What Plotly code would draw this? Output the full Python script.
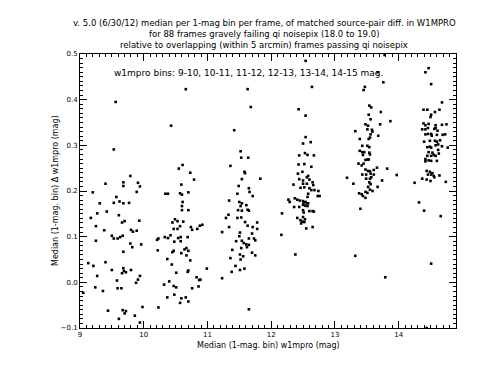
import plotly.graph_objects as go

# ---- data ----
bin1_x = [9.56, 9.53, 9.20, 9.40, 9.68, 9.68, 9.79, 9.91, 9.94, 9.89, 9.57, 9.31, 9.53, 9.62, 9.68, 9.77,
          9.27, 9.42, 9.61, 9.17, 9.25, 9.66, 9.70, 9.93, 9.38, 9.80, 9.83, 9.89, 9.50, 9.53, 9.59, 9.63,
          9.67, 9.25, 9.79, 9.82, 9.96, 9.68, 9.13, 9.21, 9.40, 9.27, 9.50, 9.68, 9.69, 9.72, 9.66, 9.80,
          9.94, 9.91, 9.58, 9.88, 9.05, 9.24, 9.36, 9.59, 9.65, 9.44, 9.67, 9.70, 9.72, 9.61, 9.86, 9.94, 9.98]
bin1_y = [0.395, 0.291, 0.197, 0.216, 0.219, 0.211, 0.233, 0.218, 0.210, 0.198, 0.187, 0.173, 0.174, 0.177, 0.173, 0.174,
          0.151, 0.155, 0.147, 0.141, 0.123, 0.131, 0.134, 0.135, 0.114, 0.115, 0.111, 0.113, 0.102, 0.096, 0.096, 0.099,
          0.102, 0.091, 0.085, 0.077, 0.083, 0.067, 0.042, 0.036, 0.044, 0.014, 0.027, 0.031, 0.025, 0.022, 0.020, 0.027,
          0.014, 0.006, 0.004, -0.001, -0.023, -0.011, -0.019, -0.013, -0.013, -0.062, -0.061, -0.068, -0.063, -0.080, -0.073, -0.088, -0.054]

bin2_x = [10.66, 10.43, 10.55, 10.61, 10.73, 10.79, 10.59, 10.34, 10.38, 10.57, 10.60, 10.70, 10.61, 10.60, 10.60, 10.70,
          10.49, 10.45, 10.53, 10.62, 10.57, 10.47, 10.53, 10.74, 10.76, 10.84, 10.88, 10.92, 10.33, 10.38, 10.42, 10.21,
          10.23, 10.54, 10.58, 10.69, 10.48, 10.58, 10.22, 10.37, 10.45, 10.47, 10.64, 10.67, 10.70, 10.59, 10.67, 10.44,
          10.73, 10.70, 10.69, 10.51, 10.83, 10.87, 10.89, 10.99, 10.32, 10.40, 10.47, 10.51, 10.37, 10.48, 10.59, 10.66,
          10.57, 10.76, 10.86, 10.70, 10.23]
bin2_y = [0.423, 0.343, 0.249, 0.257, 0.240, 0.225, 0.214, 0.194, 0.194, 0.195, 0.192, 0.197, 0.176, 0.167, 0.158, 0.158,
          0.138, 0.131, 0.134, 0.133, 0.123, 0.117, 0.117, 0.121, 0.115, 0.117, 0.124, 0.126, 0.099, 0.097, 0.103, 0.093,
          0.096, 0.097, 0.099, 0.099, 0.089, 0.090, 0.070, 0.051, 0.066, 0.069, 0.072, 0.075, 0.069, 0.064, 0.059, 0.039,
          0.048, 0.026, 0.023, 0.021, 0.011, 0.005, 0.006, 0.030, -0.005, 0.002, -0.008, -0.011, -0.033, -0.027, -0.035, -0.033,
          -0.045, -0.013, -0.009, -0.042, -0.055]

bin3_x = [11.63, 11.68, 11.42, 11.52, 11.53, 11.64, 11.36, 11.58, 11.59, 11.83, 11.54, 11.49, 11.65, 11.66, 11.71, 11.47,
          11.34, 11.50, 11.54, 11.52, 11.61, 11.48, 11.54, 11.63, 11.65, 11.33, 11.29, 11.47, 11.53, 11.59, 11.63, 11.71,
          11.78, 11.78, 11.34, 11.23, 11.51, 11.50, 11.70, 11.65, 11.73, 11.75, 11.45, 11.54, 11.57, 11.61, 11.65, 11.62,
          11.53, 11.39, 11.70, 11.75, 11.51, 11.56, 11.52, 11.36, 11.44, 11.58, 11.51, 11.38, 11.23, 11.65]
bin3_y = [0.423, 0.384, 0.333, 0.287, 0.273, 0.273, 0.255, 0.242, 0.239, 0.227, 0.226, 0.211, 0.206, 0.198, 0.189, 0.194,
          0.179, 0.176, 0.173, 0.167, 0.169, 0.158, 0.157, 0.159, 0.157, 0.148, 0.141, 0.141, 0.142, 0.132, 0.124, 0.121,
          0.131, 0.117, 0.121, 0.110, 0.109, 0.101, 0.107, 0.096, 0.096, 0.092, 0.090, 0.091, 0.086, 0.083, 0.082, 0.077,
          0.075, 0.071, 0.065, 0.059, 0.061, 0.057, 0.050, 0.053, 0.036, 0.030, 0.027, 0.023, 0.009, -0.059]

bin4_x = [12.54, 12.64, 12.43, 12.54, 12.54, 12.50, 12.62, 12.44, 12.53, 12.57, 12.67, 12.43, 12.52, 12.63, 12.42, 12.49,
          12.58, 12.56, 12.44, 12.50, 12.60, 12.35, 12.50, 12.56, 12.65, 12.66, 12.46, 12.52, 12.60, 12.63, 12.68, 12.74,
          12.58, 12.57, 12.73, 12.76, 12.37, 12.41, 12.27, 12.29, 12.45, 12.50, 12.51, 12.54, 12.56, 12.58, 12.50, 12.53,
          12.57, 12.36, 12.44, 12.50, 12.51, 12.60, 12.65, 12.67, 12.17, 12.41, 12.50, 12.53, 12.46, 12.49, 12.52, 12.47,
          12.65, 12.55, 12.16, 12.38]
bin4_y = [0.485, 0.428, 0.379, 0.365, 0.318, 0.304, 0.307, 0.278, 0.283, 0.279, 0.278, 0.258, 0.259, 0.253, 0.238, 0.242,
          0.233, 0.230, 0.226, 0.223, 0.225, 0.214, 0.216, 0.216, 0.219, 0.213, 0.207, 0.208, 0.206, 0.202, 0.202, 0.200,
          0.194, 0.187, 0.189, 0.189, 0.184, 0.181, 0.181, 0.176, 0.179, 0.178, 0.175, 0.176, 0.173, 0.173, 0.170, 0.168,
          0.167, 0.165, 0.165, 0.158, 0.153, 0.156, 0.156, 0.155, 0.151, 0.141, 0.143, 0.138, 0.136, 0.133, 0.132, 0.129,
          0.121, 0.118, 0.104, 0.061]

bin5_x = [13.78, 13.67, 13.76, 13.47, 13.45, 13.54, 13.57, 13.72, 13.53, 13.56, 13.87, 13.71, 13.48, 13.52, 13.51, 13.58,
          13.59, 13.32, 13.56, 13.55, 13.68, 13.39, 13.53, 13.43, 13.51, 13.54, 13.39, 13.43, 13.46, 13.44, 13.54, 13.55,
          13.48, 13.51, 13.53, 13.45, 13.37, 13.42, 13.66, 13.82, 13.48, 13.52, 13.55, 13.61, 13.43, 13.49, 13.56, 13.61,
          13.19, 13.97, 13.49, 13.55, 13.57, 13.74, 13.29, 13.54, 13.56, 13.67, 13.52, 13.55, 13.48, 13.51, 13.38, 13.44,
          13.48, 13.59, 13.42, 13.40, 13.32, 13.79]
bin5_y = [0.498, 0.460, 0.438, 0.428, 0.421, 0.387, 0.383, 0.373, 0.367, 0.357, 0.353, 0.346, 0.346, 0.343, 0.335, 0.334,
          0.330, 0.331, 0.324, 0.317, 0.321, 0.314, 0.314, 0.299, 0.299, 0.296, 0.288, 0.285, 0.285, 0.279, 0.284, 0.280,
          0.268, 0.269, 0.269, 0.260, 0.260, 0.256, 0.251, 0.249, 0.247, 0.244, 0.243, 0.246, 0.236, 0.236, 0.238, 0.236,
          0.229, 0.235, 0.227, 0.227, 0.230, 0.223, 0.216, 0.219, 0.215, 0.209, 0.209, 0.203, 0.198, 0.196, 0.195, 0.189,
          0.185, 0.200, 0.193, 0.161, 0.058, 0.011]

bin6_x = [14.47, 14.42, 14.51, 14.68, 14.64, 14.57, 14.51, 14.50, 14.39, 14.45, 14.39, 14.42, 14.47, 14.58, 14.68, 14.75,
          14.37, 14.42, 14.46, 14.56, 14.58, 14.61, 14.42, 14.46, 14.51, 14.52, 14.60, 14.69, 14.73, 14.40, 14.49, 14.57,
          14.60, 14.65, 14.49, 14.45, 14.51, 14.68, 14.77, 14.58, 14.62, 14.47, 14.53, 14.45, 14.62, 14.63, 14.51, 14.55,
          14.58, 14.42, 14.47, 14.42, 14.51, 14.60, 14.44, 14.49, 14.46, 14.51, 14.53, 14.55, 14.64, 14.37, 14.44, 14.50,
          14.56, 14.25, 14.74, 14.32, 14.40, 14.66, 14.51, 14.44]
bin6_y = [0.469, 0.460, 0.434, 0.394, 0.378, 0.373, 0.367, 0.362, 0.378, 0.378, 0.348, 0.344, 0.347, 0.344, 0.345, 0.346,
          0.335, 0.335, 0.338, 0.336, 0.338, 0.332, 0.324, 0.325, 0.325, 0.321, 0.323, 0.323, 0.324, 0.308, 0.310, 0.310,
          0.308, 0.311, 0.297, 0.296, 0.295, 0.298, 0.295, 0.300, 0.302, 0.285, 0.284, 0.277, 0.290, 0.282, 0.277, 0.279,
          0.277, 0.270, 0.267, 0.265, 0.266, 0.266, 0.244, 0.242, 0.236, 0.236, 0.239, 0.233, 0.234, 0.227, 0.225, 0.222,
          0.230, 0.218, 0.220, 0.175, 0.157, 0.145, 0.041, -0.100]

x_ticks = [9, 10, 11, 12, 13, 14]
y_ticks = [-0.1, 0.0, 0.1, 0.2, 0.3, 0.4, 0.5]

title_lines = [
    "v. 5.0 (6/30/12) median per 1-mag bin per frame, of matched source-pair diff. in W1MPRO",
    "for 88 frames gravely failing qi noisepix (18.0 to 19.0)",
    "relative to overlapping (within 5 arcmin) frames passing qi noisepix",
]
bins_note = "w1mpro bins: 9-10, 10-11, 11-12, 12-13, 13-14, 14-15 mag."
x_title = "Median (1-mag. bin) w1mpro (mag)"
y_title = "Median (1-mag. bin) Δ w1mpro (mag)"

all_x = bin1_x + bin2_x + bin3_x + bin4_x + bin5_x + bin6_x
all_y = bin1_y + bin2_y + bin3_y + bin4_y + bin5_y + bin6_y

FONT = "DejaVu Sans"
W, H = 492, 380
ML, MR, MT, MB = 72, 44, 46, 60
PW, PH = W - ML - MR, H - MT - MB

fig = go.Figure()
fig.add_trace(go.Scatter(
    x=all_x, y=all_y, mode="markers",
    marker=dict(symbol="square", size=2.6, color="black", line=dict(width=0)),
    showlegend=False, hoverinfo="skip",
))

axis_common = dict(
    showline=True, linecolor="black", linewidth=1, mirror="ticks",
    ticks="inside", ticklen=7, tickcolor="black", tickwidth=1,
    showgrid=False, zeroline=False,
    tickfont=dict(family=FONT, size=7, color="black"),
)

fig.update_layout(
    width=W, height=H,
    margin=dict(l=ML, r=MR, t=MT, b=MB),
    paper_bgcolor="white", plot_bgcolor="white",
    font=dict(family=FONT, size=8, color="black"),
    xaxis=dict(
        range=[9, 14.9], tickmode="linear", tick0=x_ticks[0], dtick=x_ticks[1] - x_ticks[0],
        minor=dict(dtick=0.1, ticks="inside", ticklen=3, tickcolor="black", showgrid=False),
        **axis_common,
    ),
    yaxis=dict(
        range=[y_ticks[0], y_ticks[-1]], tickmode="linear", tick0=y_ticks[0],
        dtick=round(y_ticks[1] - y_ticks[0], 3), tickformat=".1f",
        minor=dict(dtick=0.01, ticks="inside", ticklen=3, tickcolor="black", showgrid=False),
        **axis_common,
    ),
)

# title lines (pixel centres 15.5, 26, 36.5 from top)
for i, (line, yc) in enumerate(zip(title_lines, [15.5, 26.0, 36.5])):
    fig.add_annotation(text=line, xref="paper", yref="paper", x=(256 - ML) / PW,
                       y=1 + (MT - yc) / PH, xanchor="center", yanchor="middle", showarrow=False,
                       font=dict(family=FONT, size=8.5, color="black"), borderpad=0)

fig.add_annotation(text=bins_note, xref="paper", yref="paper", x=(105 - ML) / PW, y=1 - (65 - MT) / PH,
                   xanchor="left", yanchor="middle", showarrow=False,
                   font=dict(family=FONT, size=9, color="black"), borderpad=0)

fig.add_annotation(text=x_title, xref="paper", yref="paper", x=(260 - ML) / PW, y=-(337 - (H - MB)) / PH,
                   xanchor="center", yanchor="middle", showarrow=False,
                   font=dict(family=FONT, size=8, color="black"), borderpad=0)

fig.add_annotation(text=y_title, xref="paper", yref="paper", x=-(ML - 47) / PW, y=0.5,
                   xanchor="center", yanchor="middle", textangle=-90, showarrow=False,
                   font=dict(family=FONT, size=8, color="black"), borderpad=0)

fig.write_html("out.html")
